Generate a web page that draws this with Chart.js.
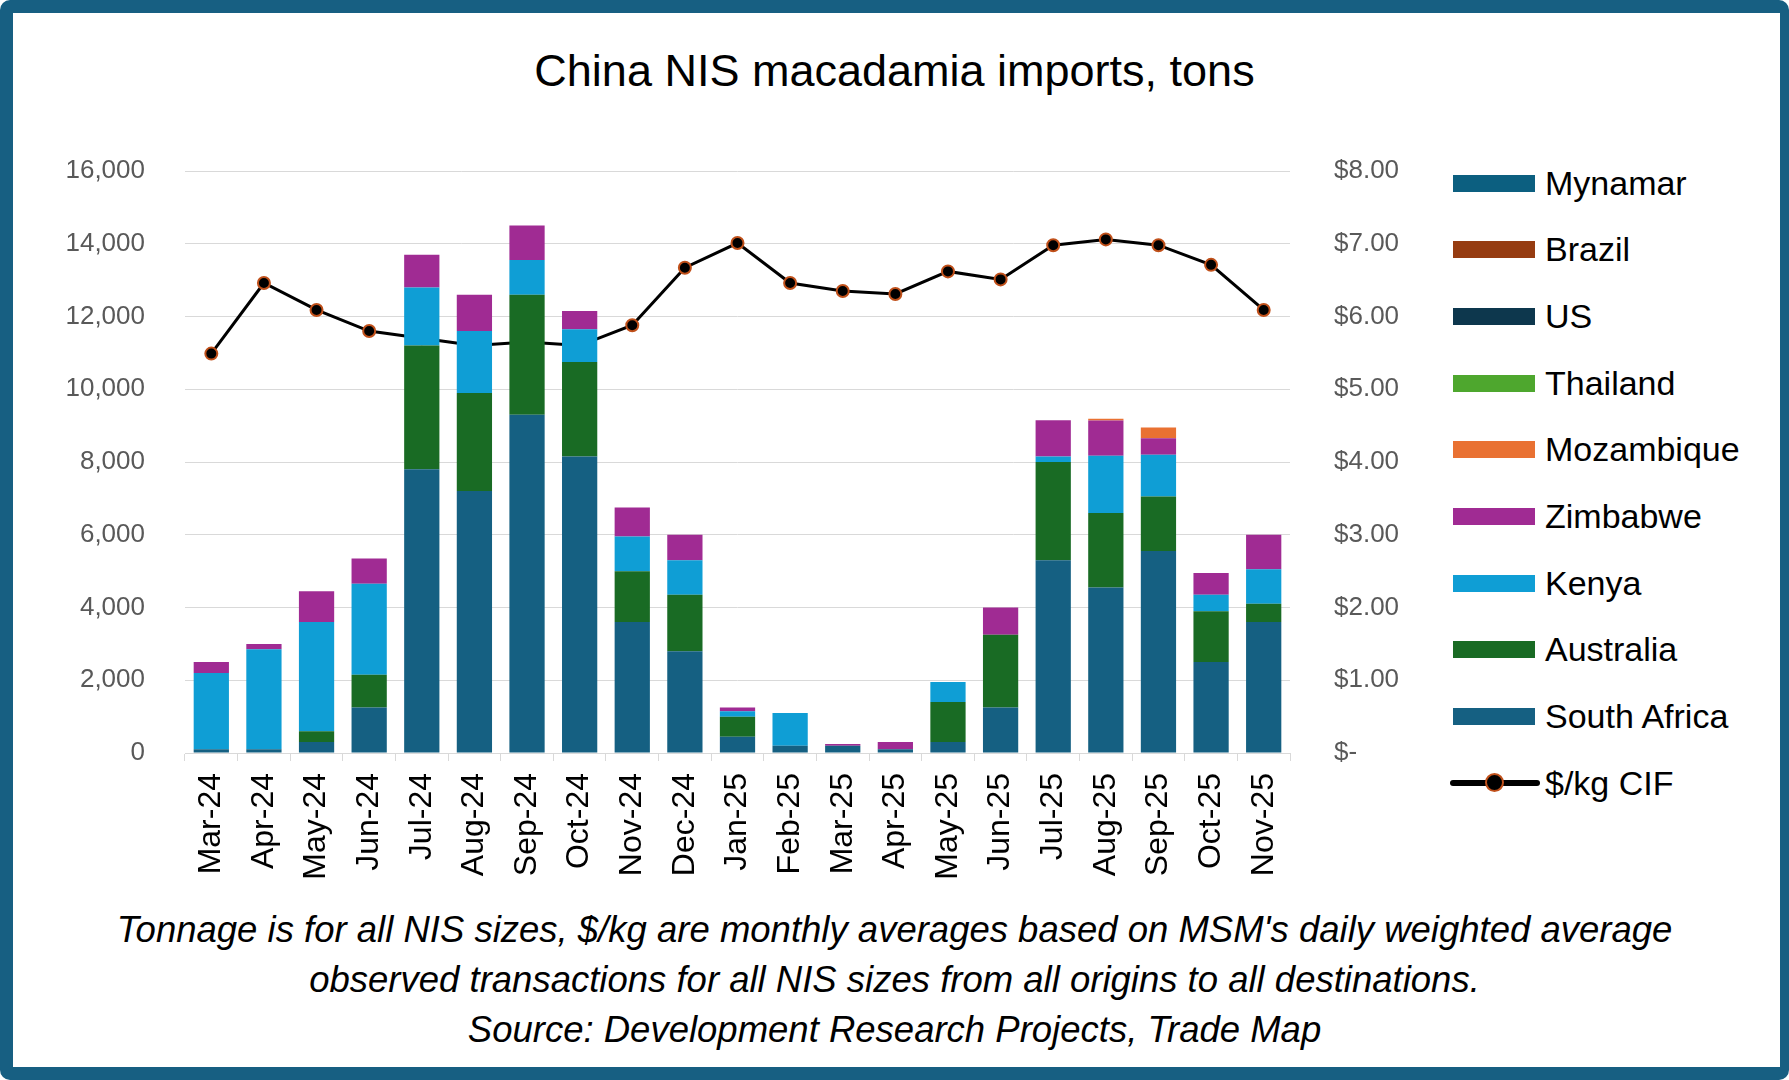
<!DOCTYPE html>
<html>
<head>
<meta charset="utf-8">
<script src="https://cdn.jsdelivr.net/npm/chart.js@4.4.1/dist/chart.umd.min.js"></script>
<style>
  html, body { margin: 0; padding: 0; background: #fff; }
  body { width: 1789px; height: 1080px; position: relative; overflow: hidden; font-family: "Liberation Sans", Arial, sans-serif; }
  #frame { position: absolute; left: 0; top: 0; width: 1789px; height: 1080px; box-sizing: border-box;
           border-style: solid; border-color: #175f82; border-width: 13px 9px 13px 13px; border-radius: 10px; pointer-events: none; }
  #title { position: absolute; left: 0; width: 1789px; top: 46px; text-align: center; font-size: 45px; line-height: 50px; color: #000; }
  #chartBox { position: absolute; left: 0; top: 0; width: 1440px; height: 900px; }
  #legend { position: absolute; left: 1450px; top: 0; }
  .item { position: absolute; left: 0; height: 40px; width: 320px; display: flex; align-items: center; font-size: 34px; color: #000; white-space: nowrap; }
  .swatch { width: 82px; height: 17px; margin-left: 3px; margin-right: 10px; flex: none; }
  .lineKey { position: relative; width: 90px; height: 20px; margin-right: 5px; flex: none; }
  .lineKey .bar { position: absolute; left: 0; top: 7px; width: 90px; height: 6px; border-radius: 3px; background: #000; }
  .lineKey .dot { position: absolute; left: 35px; top: 0; width: 15px; height: 15px; border-radius: 50%; background: #000; border: 2.5px solid #c0501a; }
  #caption { position: absolute; left: 0; width: 1789px; top: 905px; text-align: center; font-style: italic; font-size: 36.5px; line-height: 50px; color: #000; }
</style>
</head>
<body>
<div id="title">China NIS macadamia imports, tons</div>
<div id="chartBox"><canvas id="chart"></canvas></div>
<div id="legend"></div>
<div id="caption">Tonnage is for all NIS sizes, $/kg are monthly averages based on MSM's daily weighted average<br>observed transactions for all NIS sizes from all origins to all destinations.<br>Source: Development Research Projects, Trade Map</div>
<div id="frame"></div>
<script>
// months on the category axis
const months = ["Mar-24", "Apr-24", "May-24", "Jun-24", "Jul-24", "Aug-24", "Sep-24", "Oct-24", "Nov-24", "Dec-24",
  "Jan-25", "Feb-25", "Mar-25", "Apr-25", "May-25", "Jun-25", "Jul-25", "Aug-25", "Sep-25", "Oct-25", "Nov-25"];

// tons per origin (stacked bottom to top)
const southAfrica = [100, 100, 300, 1250, 7800, 7200, 9300, 8150, 3600, 2800, 450, 200, 200, 100, 300, 1250, 5300, 4550, 5550, 2500, 3600];
const australia   = [0, 0, 300, 900, 3400, 2700, 3300, 2600, 1400, 1550, 550, 0, 0, 0, 1100, 2000, 2700, 2050, 1500, 1400, 500];
const kenya       = [2100, 2750, 3000, 2500, 1600, 1700, 950, 900, 950, 950, 150, 900, 0, 0, 550, 0, 150, 1570, 1150, 450, 950];
const zimbabwe    = [300, 150, 850, 700, 900, 1000, 950, 500, 800, 700, 100, 0, 50, 200, 0, 750, 1000, 970, 450, 600, 950];
const mozambique  = [0, 0, 0, 0, 0, 0, 0, 0, 0, 0, 0, 0, 0, 0, 0, 0, 0, 50, 300, 0, 0];
const thailand    = [0, 0, 0, 0, 0, 0, 0, 0, 0, 0, 0, 0, 0, 0, 0, 0, 0, 0, 0, 0, 0];
const us          = [0, 0, 0, 0, 0, 0, 0, 0, 0, 0, 0, 0, 0, 0, 0, 0, 0, 0, 0, 0, 0];
const brazil      = [0, 0, 0, 0, 0, 0, 0, 0, 0, 0, 0, 0, 0, 0, 0, 0, 0, 0, 0, 0, 0];
const mynamar     = [0, 0, 0, 0, 0, 0, 0, 0, 0, 0, 0, 0, 0, 0, 0, 0, 0, 0, 0, 0, 0];

// monthly average $/kg CIF
const pricePerKg = [5.49, 6.46, 6.09, 5.80, 5.70, 5.60, 5.65, 5.60, 5.88, 6.67, 7.01, 6.46, 6.35, 6.31, 6.62, 6.51, 6.98, 7.06, 6.98, 6.71, 6.09];

// axis ticks
const tonTicks = [0, 2000, 4000, 6000, 8000, 10000, 12000, 14000, 16000];
const priceTicks = [0, 1, 2, 3, 4, 5, 6, 7, 8];

const origins = [
  { label: "South Africa", data: southAfrica, color: "#156082" },
  { label: "Australia",    data: australia,   color: "#196b24" },
  { label: "Kenya",        data: kenya,       color: "#0f9ed5" },
  { label: "Zimbabwe",     data: zimbabwe,    color: "#a02b93" },
  { label: "Mozambique",   data: mozambique,  color: "#e97132" },
  { label: "Thailand",     data: thailand,    color: "#4ea72e" },
  { label: "US",           data: us,          color: "#0d374d" },
  { label: "Brazil",       data: brazil,      color: "#963c11" },
  { label: "Mynamar",      data: mynamar,     color: "#0c5f80" }
];

const datasets = origins.map(o => ({
  type: "bar",
  label: o.label,
  data: o.data,
  backgroundColor: o.color,
  yAxisID: "y",
  barPercentage: 0.67,
  categoryPercentage: 1.0,
  order: 1
}));

datasets.push({
  type: "line",
  label: "$/kg CIF",
  data: pricePerKg,
  yAxisID: "y1",
  borderColor: "#000000",
  borderWidth: 3,
  pointRadius: 6,
  pointBackgroundColor: "#000000",
  pointBorderColor: "#c0501a",
  pointBorderWidth: 2,
  tension: 0,
  order: 5
});

Chart.defaults.font.family = "'Liberation Sans', Arial, sans-serif";

const chart = new Chart(document.getElementById("chart"), {
  type: "bar",
  data: { labels: months, datasets: datasets },
  options: {
    responsive: true,
    maintainAspectRatio: false,
    animation: false,
    layout: { padding: { top: 171, left: 0, right: 0, bottom: 0 } },
    plugins: {
      legend: { display: false },
      tooltip: { enabled: false },
      title: { display: false }
    },
    scales: {
      x: {
        stacked: true,
        grid: { offset: true, drawOnChartArea: false, color: "#d9d9d9", tickLength: 8 },
        border: { color: "#d9d9d9" },
        ticks: { autoSkip: false, minRotation: 90, maxRotation: 90, color: "#000", font: { size: 32 }, padding: 12 },
        afterFit: s => { s.height = 147; }
      },
      y: {
        stacked: true,
        position: "left",
        min: 0,
        max: 16000,
        afterBuildTicks: s => { s.ticks = tonTicks.map(v => ({ value: v })); },
        ticks: { color: "#595959", font: { size: 26 }, padding: 40, callback: v => v.toLocaleString("en-US") },
        grid: { color: "#d9d9d9", drawTicks: false },
        border: { display: false },
        afterFit: s => { s.width = 185; }
      },
      y1: {
        position: "right",
        min: 0,
        max: 8,
        afterBuildTicks: s => { s.ticks = priceTicks.map(v => ({ value: v })); },
        ticks: { color: "#595959", font: { size: 26 }, padding: 44, callback: v => v === 0 ? "$-" : "$" + v.toFixed(2) },
        grid: { display: false, drawTicks: false },
        border: { display: false },
        afterFit: s => { s.width = 150; }
      }
    }
  }
});

// legend on the right, same order as the original (top of stack first)
const legendBox = document.getElementById("legend");
const legendOrder = ["Mynamar", "Brazil", "US", "Thailand", "Mozambique", "Zimbabwe", "Kenya", "Australia", "South Africa"];
legendOrder.forEach((name, i) => {
  const o = origins.find(x => x.label === name);
  const div = document.createElement("div");
  div.className = "item";
  div.style.top = (163 + i * 66.7) + "px";
  div.innerHTML = `<span class="swatch" style="background:${o.color}"></span>${name}`;
  legendBox.appendChild(div);
});
const lineItem = document.createElement("div");
lineItem.className = "item";
lineItem.style.top = (163 + 9 * 66.7) + "px";
lineItem.innerHTML = `<span class="lineKey"><span class="bar"></span><span class="dot"></span></span>$/kg CIF`;
legendBox.appendChild(lineItem);
</script>
</body>
</html>
